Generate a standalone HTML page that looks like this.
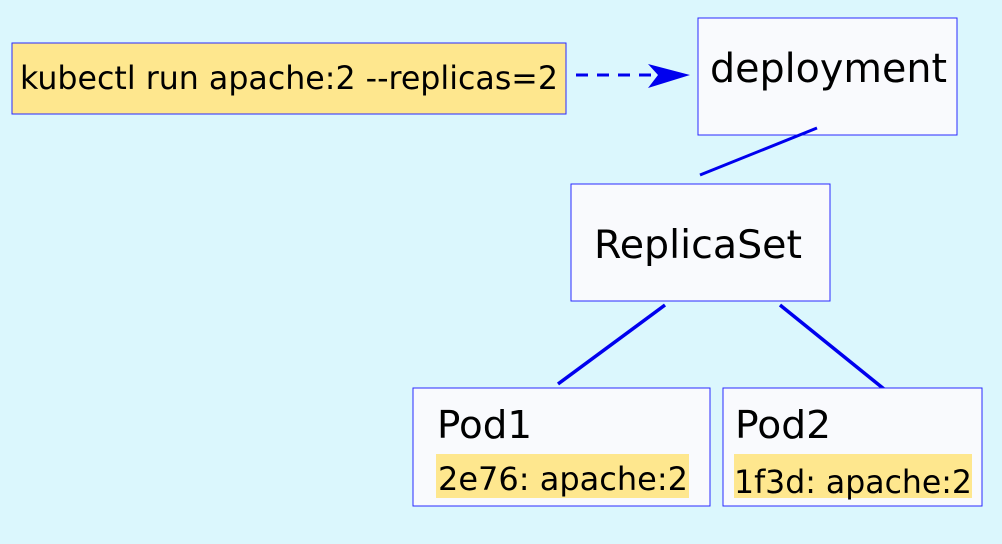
<!DOCTYPE html>
<html><head><style>html,body{margin:0;padding:0;background:#dbf7fd;}</style></head>
<body>
<svg width="1002" height="539" xmlns="http://www.w3.org/2000/svg" font-family="'DejaVu Sans', sans-serif">
<rect width="1002" height="539" fill="#dbf7fd"/>
<rect x="12" y="43" width="554" height="71" fill="#fee78e" stroke="#2a2aff" stroke-width="1"/>
<text x="20" y="89" font-size="31.8" textLength="538" lengthAdjust="spacingAndGlyphs" fill="#000">kubectl run apache:2 --replicas=2</text>
<line x1="576" y1="75" x2="655" y2="75" stroke="#0000ee" stroke-width="3" stroke-dasharray="12,9"/>
<polygon points="690,75 648,64 658,75 648,88" fill="#0000ee"/>
<rect x="698" y="18" width="259" height="117" fill="#f9fafd" stroke="#2a2aff" stroke-width="1"/>
<text x="710" y="82" font-size="39.8" textLength="237" lengthAdjust="spacingAndGlyphs" fill="#000">deployment</text>
<line x1="817" y1="128" x2="700" y2="175" stroke="#0000ee" stroke-width="3"/>
<rect x="571" y="184" width="259" height="117" fill="#f9fafd" stroke="#2a2aff" stroke-width="1"/>
<text x="594" y="258" font-size="39.5" textLength="208" lengthAdjust="spacingAndGlyphs" fill="#000">ReplicaSet</text>
<line x1="665" y1="305" x2="558" y2="384" stroke="#0000ee" stroke-width="3.5"/>
<line x1="780" y1="305" x2="884" y2="389" stroke="#0000ee" stroke-width="3.5"/>
<rect x="413" y="388" width="297" height="118" fill="#f9fafd" stroke="#2a2aff" stroke-width="1"/>
<text x="437" y="438" font-size="38.5" textLength="95" lengthAdjust="spacingAndGlyphs" fill="#000">Pod1</text>
<rect x="436" y="454" width="253" height="44" fill="#fee78e"/>
<text x="438" y="490" font-size="32" textLength="250" lengthAdjust="spacingAndGlyphs" fill="#000">2e76: apache:2</text>
<rect x="723" y="388" width="259" height="118" fill="#f9fafd" stroke="#2a2aff" stroke-width="1"/>
<text x="735" y="438" font-size="38.5" textLength="96" lengthAdjust="spacingAndGlyphs" fill="#000">Pod2</text>
<rect x="734" y="454" width="238" height="44" fill="#fee78e"/>
<text x="734" y="493" font-size="32" textLength="238" lengthAdjust="spacingAndGlyphs" fill="#000">1f3d: apache:2</text>
</svg>
</body></html>
